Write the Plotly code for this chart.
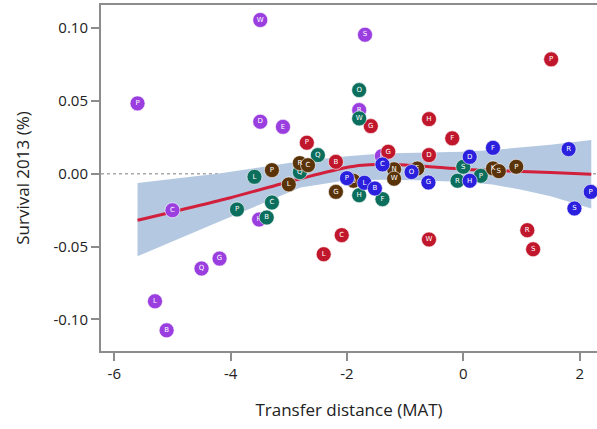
import plotly.graph_objects as go

# --- Provenance groups: transfer distance (x), survival (y), site letter ---
purple_x = [-5.60, -3.49, -3.49, -3.10, -1.69, -1.79, -5.00, -3.51, -4.19, -4.50, -5.30, -5.10, -1.40]
purple_y = [0.0482, 0.1054, 0.0356, 0.0321, 0.0953, 0.0436, -0.0251, -0.0315, -0.0583, -0.0651, -0.0876, -0.1075, 0.0120]
purple_t = ["P", "W", "D", "E", "S", "R", "C", "H", "G", "Q", "L", "B", "F"]

red_x = [1.51, -1.59, -0.59, -0.19, -2.69, -2.19, -1.29, -0.59, -2.09, -2.40, -0.59, 1.10, 1.20]
red_y = [0.0784, 0.0326, 0.0374, 0.0242, 0.0212, 0.0081, 0.0150, 0.0127, -0.0422, -0.0553, -0.0452, -0.0388, -0.0519]
red_t = ["P", "G", "H", "F", "P", "B", "G", "D", "C", "L", "W", "R", "S"]

teal_x = [-1.79, -1.79, -2.50, 0.00, -0.10, 0.30, -1.79, -1.39, -3.59, -2.81, -3.89, -3.29, -3.38]
teal_y = [0.0573, 0.0379, 0.0127, 0.0047, -0.0049, -0.0015, -0.0148, -0.0175, -0.0022, 0.0010, -0.0246, -0.0198, -0.0301]
teal_t = ["O", "W", "Q", "S", "R", "P", "H", "F", "L", "Q", "P", "C", "B"]

brown_x = [-3.29, -3.00, -2.81, -2.67, -2.19, -1.89, -1.19, -1.19, -0.79, 0.51, 0.61, 0.91]
brown_y = [0.0024, -0.0074, 0.0072, 0.0058, -0.0125, -0.0049, 0.0030, -0.0035, 0.0035, 0.0036, 0.0017, 0.0047]
brown_t = ["P", "L", "R", "C", "G", "O", "N", "W", "F", "K", "S", "P"]

blue_x = [0.51, 1.81, 2.19, 1.91, 0.11, 0.11, -0.60, -0.89, -1.39, -2.00, -1.70, -1.52]
blue_y = [0.0177, 0.0168, -0.0125, -0.0239, 0.0115, -0.0049, -0.0061, 0.0011, 0.0063, -0.0031, -0.0063, -0.0102]
blue_t = ["F", "R", "P", "S", "D", "H", "G", "O", "C", "P", "L", "B"]

# --- Smoothed trend and its confidence band ---
fit_x = [-5.6, -4.0, -2.9, -2.2, -1.8, -1.4, -1.0, -0.5, 0.0, 0.5, 1.0, 1.5, 2.2]
fit_y = [-0.032, -0.0165, -0.0045, 0.0025, 0.0055, 0.0065, 0.0060, 0.0045, 0.0030, 0.0022, 0.0015, 0.0007, -0.0004]

band_x = [-5.6, -4.2, -2.8, -2.0, -1.4, -0.8, 0.0, 0.5, 1.0, 1.5, 2.2]
band_hi = [-0.0065, 0.0001, 0.0085, 0.0120, 0.0138, 0.0143, 0.0150, 0.0162, 0.0178, 0.0198, 0.0230]
band_lo = [-0.0567, -0.0330, -0.0095, -0.0045, -0.0042, -0.0045, -0.0058, -0.0075, -0.0110, -0.0155, -0.0239]

x_ticks = [-6, -4, -2, 0, 2]
x_tick_text = ["-6", "-4", "-2", "0", "2"]
y_ticks = [0.10, 0.05, 0.00, -0.05, -0.10]
y_tick_text = ["0.10", "0.05", "0.00", "-0.05", "-0.10"]

FONT = "Open Sans"
AXIS_GREY = "#8c8c8c"

fig = go.Figure()

# confidence band (closed polygon: upper edge forward, lower edge back)
fig.add_trace(go.Scatter(
    x=band_x + band_x[::-1],
    y=band_hi + band_lo[::-1],
    fill="toself", fillcolor="#b4c9e1",
    line=dict(width=0), mode="lines", hoverinfo="skip", showlegend=False,
))

fig.add_trace(go.Scatter(
    x=fit_x, y=fit_y, mode="lines",
    line=dict(color="#d21f3c", width=3, shape="spline", smoothing=0.6),
    showlegend=False,
))

groups = [
    (purple_x, purple_y, purple_t, "#9a3ee0"),
    (red_x, red_y, red_t, "#c1172c"),
    (teal_x, teal_y, teal_t, "#0c6e5c"),
    (brown_x, brown_y, brown_t, "#5a3309"),
    (blue_x, blue_y, blue_t, "#2b20dd"),
]
for gx, gy, gt, col in groups:
    fig.add_trace(go.Scatter(
        x=gx, y=gy, text=gt, mode="markers+text",
        textposition="middle center",
        textfont=dict(family="DejaVu Sans", size=7, color="white"),
        marker=dict(size=15, color=col, line=dict(width=1, color="rgba(255,255,255,0.6)")),
        showlegend=False,
    ))

# dotted reference line at zero survival
fig.add_shape(type="line", xref="paper", yref="y", x0=0, x1=1, y0=0, y1=0,
              line=dict(color="#a8a8a8", width=1.5, dash="dot"), layer="below")

fig.update_layout(
    width=597, height=429,
    margin=dict(l=101, r=0, t=5, b=78),
    paper_bgcolor="white", plot_bgcolor="white",
    font=dict(family=FONT, color="#222222"),
    xaxis=dict(
        range=[-6.228, 2.298], tickvals=x_ticks, ticktext=x_tick_text,
        showgrid=False, zeroline=False,
        showline=True, linecolor=AXIS_GREY, linewidth=2, mirror=True,
        ticks="outside", ticklen=8, tickwidth=1.5, tickcolor=AXIS_GREY,
        tickfont=dict(size=15, family=FONT, color="#222222"),
        title=dict(text="Transfer distance (MAT)", font=dict(size=17, family=FONT), standoff=22),
    ),
    yaxis=dict(
        range=[-0.1217, 0.1157], tickvals=y_ticks, ticktext=y_tick_text,
        showgrid=False, zeroline=False,
        showline=True, linecolor=AXIS_GREY, linewidth=2, mirror=False,
        ticks="outside", ticklen=8, tickwidth=1.5, tickcolor=AXIS_GREY,
        tickfont=dict(size=15, family=FONT, color="#222222"),
        title=dict(text="Survival 2013 (%)", font=dict(size=17, family=FONT), standoff=20),
    ),
)

fig.write_html("out.html")
